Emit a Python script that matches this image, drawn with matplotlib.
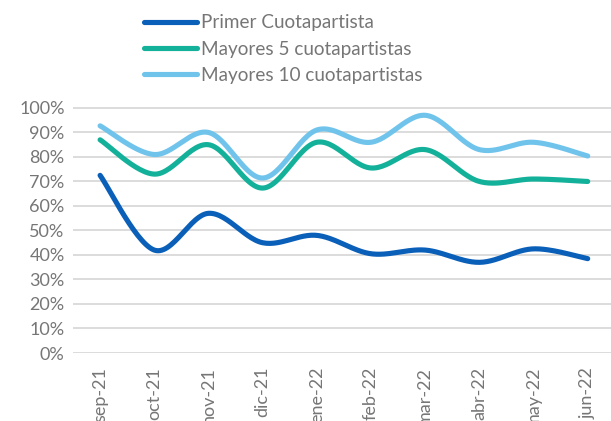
import numpy as np
import matplotlib.pyplot as plt
from matplotlib.ticker import PercentFormatter

meses = ['sep-21', 'oct-21', 'nov-21', 'dic-21', 'ene-22',
         'feb-22', 'mar-22', 'abr-22', 'may-22', 'jun-22']
primer = [72.5, 42.0, 57.0, 45.0, 48.0, 40.5, 42.0, 37.0, 42.5, 38.5]
mayores5 = [87.0, 73.0, 85.0, 67.3, 86.0, 75.5, 83.0, 70.0, 71.0, 70.0]
mayores10 = [92.7, 81.0, 90.0, 71.4, 91.0, 86.0, 97.0, 83.0, 86.0, 80.4]

colores = ['#0a5fb8', '#13b19a', '#70c4ec']
nombres = ['Primer Cuotapartista', 'Mayores 5 cuotapartistas', 'Mayores 10 cuotapartistas']


def suavizar(x, y, n=30):
    # curva tipo Excel: bezier con tangentes catmull-rom
    x = np.asarray(x, float)
    y = np.asarray(y, float)
    px = np.concatenate([[x[0]], x, [x[-1]]])
    py = np.concatenate([[y[0]], y, [y[-1]]])
    xs, ys = [], []
    t = np.linspace(0, 1, n)
    for i in range(1, len(px) - 2):
        p0 = np.array([px[i], py[i]])
        p3 = np.array([px[i + 1], py[i + 1]])
        c1 = p0 + (np.array([px[i + 1], py[i + 1]]) - np.array([px[i - 1], py[i - 1]])) / 6
        c2 = p3 - (np.array([px[i + 2], py[i + 2]]) - np.array([px[i], py[i]])) / 6
        b = ((1 - t) ** 3)[:, None] * p0 + (3 * (1 - t) ** 2 * t)[:, None] * c1 \
            + (3 * (1 - t) * t ** 2)[:, None] * c2 + (t ** 3)[:, None] * p3
        xs.extend(b[:, 0])
        ys.extend(b[:, 1])
    return xs, ys


plt.rcParams['font.family'] = ['Lato', 'DejaVu Sans']

fig = plt.figure(figsize=(6.11, 4.21), dpi=100)
ax = fig.add_axes([73 / 611, (421 - 353) / 421, 1 - 73 / 611, (353 - 105.5) / 421])

x = np.arange(len(meses))
for serie, color, nombre in zip([primer, mayores5, mayores10], colores, nombres):
    sx, sy = suavizar(x, np.array(serie) / 100)
    ax.plot(sx, sy, color=color, lw=3.7, solid_capstyle='round', label=nombre, zorder=3)

ax.set_xlim(-0.5, 9.43)
ax.set_ylim(0, 1.01)
ax.set_yticks(np.arange(0, 1.01, 0.1))
ax.yaxis.set_major_formatter(PercentFormatter(1.0, decimals=0))
ax.set_xticks(x)
ax.set_xticklabels(meses, rotation=90)
ax.grid(axis='y', color='#d9d9d9', lw=1.3)
ax.set_axisbelow(True)
for s in ax.spines.values():
    s.set_visible(False)
ax.tick_params(length=0, labelsize=13, colors='#767676', pad=6)
ax.tick_params(axis='x', pad=10)

ax.legend(loc='upper left', bbox_to_anchor=(130 / 611, 1.0), bbox_transform=fig.transFigure,
          frameon=False, fontsize=13.6, labelcolor='#767676', handlelength=2.8,
          handletextpad=0.2, labelspacing=0.5, borderaxespad=0.35)

fig.savefig('out.png', dpi=100)
